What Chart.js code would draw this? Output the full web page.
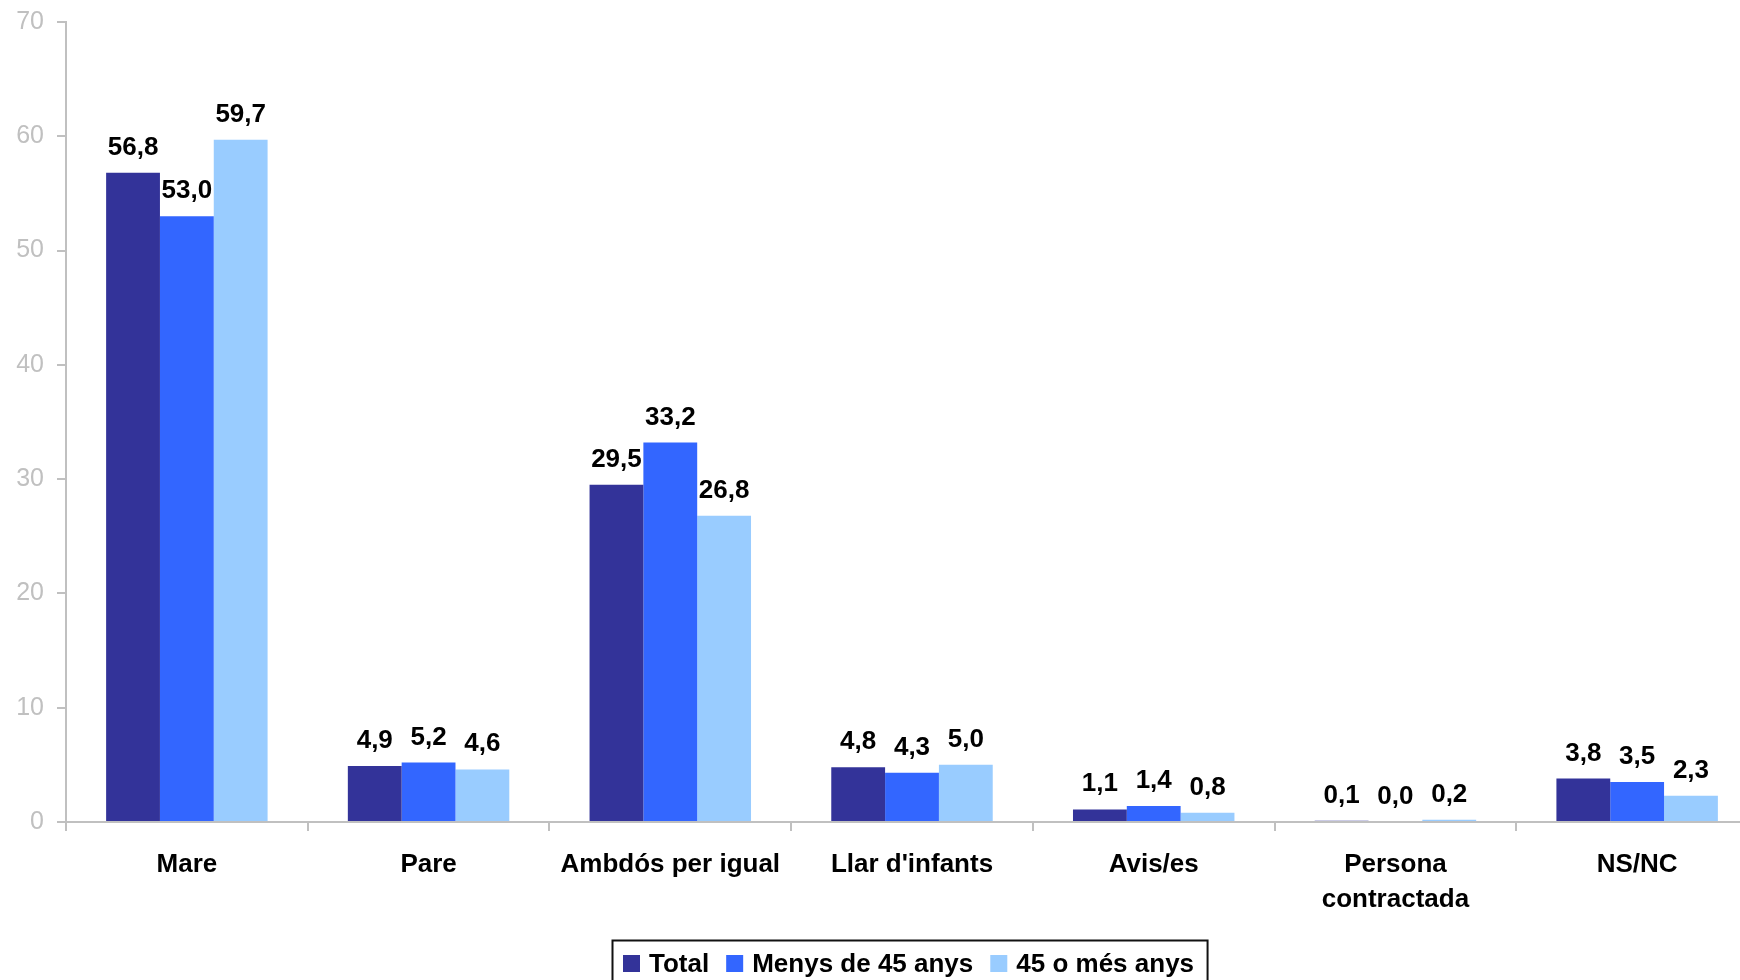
<!DOCTYPE html>
<html>
<head>
<meta charset="utf-8">
<script src="https://cdn.jsdelivr.net/npm/chart.js@4/dist/chart.umd.min.js"></script>
<style>
  html, body { margin: 0; padding: 0; background: #fff; overflow: hidden; }
  #wrap { width: 1740px; height: 980px; overflow: hidden; }
  canvas { display: block; }
</style>
</head>
<body>
<div id="wrap"><canvas id="myChart" width="1760" height="980"></canvas></div>
<script>
const categories = ['Mare', 'Pare', 'Ambdós per igual', "Llar d'infants", 'Avis/es', ['Persona', 'contractada'], 'NS/NC'];
const seriesNames = ['Total', 'Menys de 45 anys', '45 o més anys'];
const total = [56.8, 4.9, 29.5, 4.8, 1.1, 0.1, 3.8];
const under45 = [53.0, 5.2, 33.2, 4.3, 1.4, 0.0, 3.5];
const over45 = [59.7, 4.6, 26.8, 5.0, 0.8, 0.2, 2.3];
const colors = ['#333399', '#3366FF', '#99CCFF'];

const FONT = '"Liberation Sans", Arial, sans-serif';
const AXIS_GREY = '#c0c0c0';

// numbers over the bars, with a decimal comma
const valueLabels = {
  id: 'valueLabels',
  afterDatasetsDraw(chart) {
    const ctx = chart.ctx;
    ctx.save();
    ctx.font = 'bold 26px ' + FONT;
    ctx.fillStyle = '#000';
    ctx.textAlign = 'center';
    ctx.textBaseline = 'alphabetic';
    chart.data.datasets.forEach((ds, i) => {
      chart.getDatasetMeta(i).data.forEach((bar, j) => {
        ctx.fillText(ds.data[j].toFixed(1).replace('.', ','), bar.x, bar.y - 18);
      });
    });
    ctx.restore();
  }
};

// framed legend under the axis
const boxedLegend = {
  id: 'boxedLegend',
  afterDraw(chart) {
    const ctx = chart.ctx;
    const area = chart.chartArea;
    ctx.save();
    ctx.font = 'bold 26px ' + FONT;
    const sq = 17, gap = 9, between = 17, padL = 11, padR = 13;
    const items = chart.data.datasets.map(ds => ({
      label: ds.label, color: ds.backgroundColor, w: ctx.measureText(ds.label).width
    }));
    let width = padL + padR;
    items.forEach((it, i) => { width += sq + gap + it.w + (i ? between : 0); });
    const cx = (area.left + area.right) / 2 - 2;
    const left = Math.round(cx - width / 2);
    const top = 940;
    ctx.strokeStyle = '#111';
    ctx.lineWidth = 2;
    ctx.strokeRect(left + 0.5, top + 0.5, width, 80);
    let x = left + padL;
    const base = 972;
    ctx.textBaseline = 'alphabetic';
    ctx.textAlign = 'left';
    items.forEach(it => {
      ctx.fillStyle = it.color;
      ctx.fillRect(x, base - sq, sq, sq);
      x += sq + gap;
      ctx.fillStyle = '#000';
      ctx.fillText(it.label, x, base);
      x += it.w + between;
    });
    ctx.restore();
  }
};

const data = {
  labels: categories,
  datasets: [
    { label: seriesNames[0], data: total, backgroundColor: colors[0] },
    { label: seriesNames[1], data: under45, backgroundColor: colors[1] },
    { label: seriesNames[2], data: over45, backgroundColor: colors[2] }
  ]
};

const config = {
  type: 'bar',
  data,
  options: {
    responsive: false,
    animation: false,
    devicePixelRatio: 1,
    layout: { padding: { top: 22, right: 2, bottom: 0, left: 0 } },
    datasets: { bar: { categoryPercentage: 0.668, barPercentage: 1.0, borderWidth: 0 } },
    plugins: {
      legend: { display: false },
      tooltip: { enabled: false }
    },
    scales: {
      x: {
        grid: {
          offset: true,
          drawOnChartArea: false,
          drawTicks: true,
          tickLength: 9,
          color: AXIS_GREY,
          lineWidth: 2
        },
        border: { display: true, color: AXIS_GREY, width: 2 },
        ticks: {
          color: '#000',
          font: { family: FONT, size: 26, weight: 'bold', lineHeight: 1.35 },
          padding: 16,
          maxRotation: 0,
          autoSkip: false
        },
        afterFit(scale) {
          scale.height = 158;
          scale.paddingLeft = 0;
          scale.paddingRight = 0;
        }
      },
      y: {
        min: 0,
        max: 70,
        grid: {
          drawOnChartArea: false,
          drawTicks: true,
          tickLength: 9,
          color: AXIS_GREY,
          lineWidth: 2
        },
        border: { display: true, color: AXIS_GREY, width: 2 },
        ticks: {
          stepSize: 10,
          color: AXIS_GREY,
          font: { family: FONT, size: 25 },
          padding: 13
        },
        afterFit(scale) {
          scale.width = 66;
          scale.paddingTop = 0;
          scale.paddingBottom = 0;
        }
      }
    }
  },
  plugins: [valueLabels, boxedLegend]
};

const myChart = new Chart(document.getElementById('myChart'), config);
</script>
</body>
</html>
